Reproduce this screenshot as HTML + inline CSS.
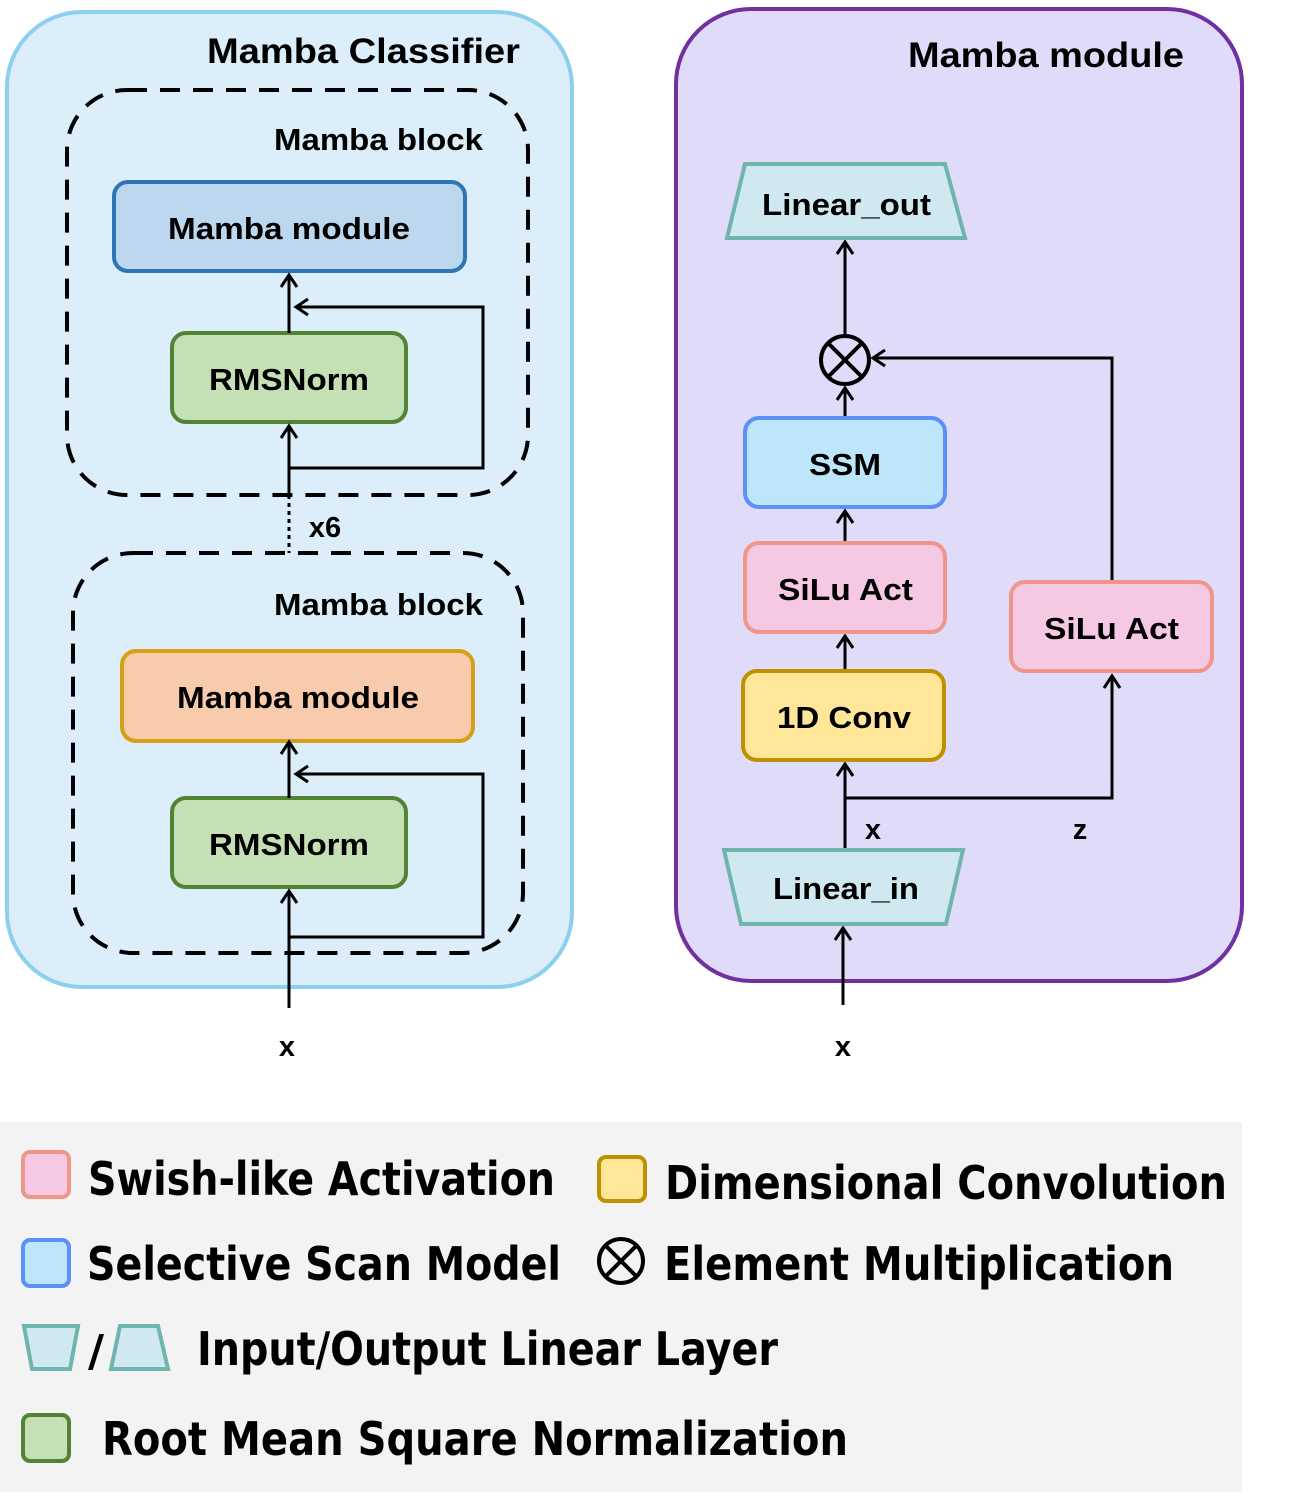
<!DOCTYPE html>
<html><head><meta charset="utf-8"><style>html,body{margin:0;padding:0;background:#fff}svg{display:block}</style></head>
<body>
<svg width="1306" height="1500" viewBox="0 0 1306 1500" xmlns="http://www.w3.org/2000/svg" font-family="Liberation Sans, sans-serif" font-weight="bold">
<defs>
<marker id="a" markerWidth="20" markerHeight="20" refX="14" refY="10" orient="auto" markerUnits="userSpaceOnUse"><path d="M2,2 L14,10 L2,18" fill="none" stroke="#000" stroke-width="3"/></marker>
</defs>
<rect x="7" y="12" width="565" height="975" rx="75" fill="#dbeefa" stroke="#8ccfee" stroke-width="4"/>
<rect x="676" y="9" width="566" height="972" rx="75" fill="#e1dbfa" stroke="#7030a0" stroke-width="4"/>
<text x="207" y="63" font-size="35" textLength="313" lengthAdjust="spacingAndGlyphs">Mamba Classifier</text>
<text x="908" y="67" font-size="35" textLength="276" lengthAdjust="spacingAndGlyphs">Mamba module</text>
<rect x="67" y="90" width="461" height="405" rx="60" fill="none" stroke="#000" stroke-width="4" stroke-dasharray="20 13"/>
<rect x="73" y="553" width="450" height="400" rx="60" fill="none" stroke="#000" stroke-width="4" stroke-dasharray="20 13"/>
<text x="274" y="150" font-size="31" textLength="209" lengthAdjust="spacingAndGlyphs">Mamba block</text>
<text x="274" y="615" font-size="31" textLength="209" lengthAdjust="spacingAndGlyphs">Mamba block</text>
<rect x="114" y="182" width="351" height="89" rx="14" fill="#bdd7ee" stroke="#2e75b6" stroke-width="4"/>
<text x="168" y="239" font-size="31" textLength="242" lengthAdjust="spacingAndGlyphs">Mamba module</text>
<rect x="172" y="333" width="234" height="89" rx="14" fill="#c5e0b4" stroke="#548235" stroke-width="4"/>
<text x="209" y="390" font-size="31" textLength="160" lengthAdjust="spacingAndGlyphs">RMSNorm</text>
<rect x="122" y="651" width="351" height="90" rx="14" fill="#f8cbad" stroke="#d4a017" stroke-width="4"/>
<text x="177" y="708" font-size="31" textLength="242" lengthAdjust="spacingAndGlyphs">Mamba module</text>
<rect x="172" y="798" width="234" height="89" rx="14" fill="#c5e0b4" stroke="#548235" stroke-width="4"/>
<text x="209" y="855" font-size="31" textLength="160" lengthAdjust="spacingAndGlyphs">RMSNorm</text>
<g stroke="#000" stroke-width="3" fill="none">
<line x1="289" y1="495" x2="289" y2="426" marker-end="url(#a)"/>
<line x1="289" y1="333" x2="289" y2="275" marker-end="url(#a)"/>
<polyline points="289,468 483,468 483,307 296,307" marker-end="url(#a)"/>
<line x1="289" y1="495" x2="289" y2="553" stroke-dasharray="4 4"/>
<line x1="289" y1="1008" x2="289" y2="891" marker-end="url(#a)"/>
<line x1="289" y1="798" x2="289" y2="742" marker-end="url(#a)"/>
<polyline points="289,937 483,937 483,774 296,774" marker-end="url(#a)"/>
<line x1="845" y1="850" x2="845" y2="764" marker-end="url(#a)"/>
<polyline points="845,798 1112,798 1112,676" marker-end="url(#a)"/>
<line x1="845" y1="671" x2="845" y2="636" marker-end="url(#a)"/>
<line x1="845" y1="543" x2="845" y2="511" marker-end="url(#a)"/>
<line x1="845" y1="418" x2="845" y2="388" marker-end="url(#a)"/>
<line x1="845" y1="335" x2="845" y2="242" marker-end="url(#a)"/>
<polyline points="1112,582 1112,358 873,358" marker-end="url(#a)"/>
<line x1="843" y1="1005" x2="843" y2="928" marker-end="url(#a)"/>
</g>
<text x="325" y="537" font-size="29" text-anchor="middle">x6</text>
<text x="287" y="1056" font-size="29" text-anchor="middle">x</text>
<text x="843" y="1056" font-size="29" text-anchor="middle">x</text>
<text x="873" y="839" font-size="29" text-anchor="middle">x</text>
<text x="1080" y="839" font-size="29" text-anchor="middle">z</text>
<polygon points="745,164 945,164 965,238 727,238" fill="#d0e8ef" stroke="#6fb5ad" stroke-width="4"/>
<text x="762" y="215" font-size="31" textLength="169" lengthAdjust="spacingAndGlyphs">Linear_out</text>
<polygon points="724,850 963,850 946,924 741,924" fill="#d0e8ef" stroke="#6fb5ad" stroke-width="4"/>
<text x="773" y="899" font-size="31" textLength="146" lengthAdjust="spacingAndGlyphs">Linear_in</text>
<circle cx="845" cy="360" r="24" fill="none" stroke="#000" stroke-width="4"/>
<path d="M828,343 L862,377 M862,343 L828,377" stroke="#000" stroke-width="4"/>
<rect x="745" y="418" width="200" height="89" rx="14" fill="#bde6fb" stroke="#5b8ff9" stroke-width="4"/>
<text x="809" y="475" font-size="31" textLength="72" lengthAdjust="spacingAndGlyphs">SSM</text>
<rect x="745" y="543" width="200" height="89" rx="14" fill="#f5c8e3" stroke="#f0958a" stroke-width="4"/>
<text x="778" y="600" font-size="31" textLength="135" lengthAdjust="spacingAndGlyphs">SiLu Act</text>
<rect x="743" y="671" width="201" height="89" rx="14" fill="#ffe699" stroke="#bf9000" stroke-width="4"/>
<text x="777" y="728" font-size="31" textLength="134" lengthAdjust="spacingAndGlyphs">1D Conv</text>
<rect x="1011" y="582" width="201" height="89" rx="14" fill="#f5c8e3" stroke="#f0958a" stroke-width="4"/>
<text x="1044" y="639" font-size="31" textLength="135" lengthAdjust="spacingAndGlyphs">SiLu Act</text>
<rect x="0" y="1122" width="1242" height="370" fill="#f3f3f3"/>
<g font-family="DejaVu Sans, sans-serif" font-size="46" font-weight="bold" fill="#000">
<rect x="23" y="1152" width="46" height="45" rx="7" fill="#f5c8e3" stroke="#f0958a" stroke-width="4"/>
<text x="88" y="1195" textLength="467" lengthAdjust="spacingAndGlyphs">Swish-like Activation</text>
<rect x="599" y="1157" width="46" height="44" rx="7" fill="#ffe699" stroke="#bf9000" stroke-width="4"/>
<text x="665" y="1199" textLength="562" lengthAdjust="spacingAndGlyphs">Dimensional Convolution</text>
<rect x="23" y="1240" width="46" height="46" rx="7" fill="#bde6fb" stroke="#5b8ff9" stroke-width="4"/>
<text x="87" y="1280" textLength="474" lengthAdjust="spacingAndGlyphs">Selective Scan Model</text>
<circle cx="621" cy="1261" r="22" fill="none" stroke="#000" stroke-width="4"/>
<path d="M606,1246 L636,1276 M636,1246 L606,1276" stroke="#000" stroke-width="4"/>
<text x="664" y="1280" textLength="510" lengthAdjust="spacingAndGlyphs">Element Multiplication</text>
<polygon points="24,1326 78,1326 70,1369 32,1369" fill="#d0e8ef" stroke="#6fb5ad" stroke-width="4"/>
<text x="88" y="1366" font-size="44">/</text>
<polygon points="120,1326 158,1326 168,1369 111,1369" fill="#d0e8ef" stroke="#6fb5ad" stroke-width="4"/>
<text x="197" y="1365" textLength="581" lengthAdjust="spacingAndGlyphs">Input/Output Linear Layer</text>
<rect x="23" y="1415" width="46" height="46" rx="7" fill="#c5e0b4" stroke="#548235" stroke-width="4"/>
<text x="102" y="1455" textLength="746" lengthAdjust="spacingAndGlyphs">Root Mean Square Normalization</text>
</g>
</svg>
</body></html>
